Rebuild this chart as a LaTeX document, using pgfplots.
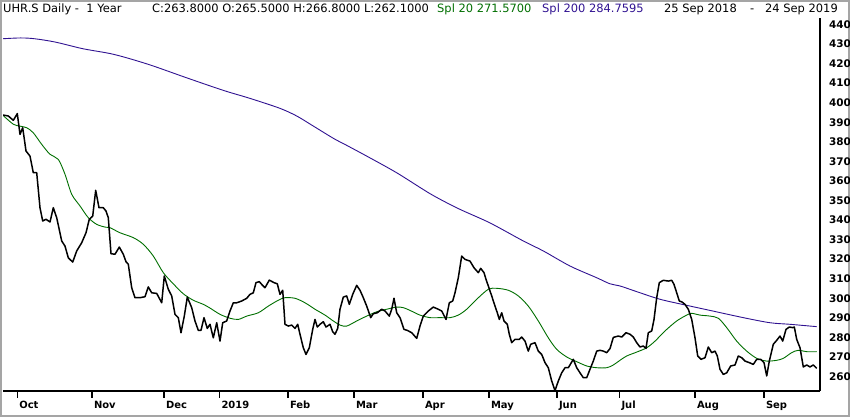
\documentclass[border=0pt]{standalone}
\usepackage{fontspec}
\setmainfont{DejaVu Sans}
\usepackage{pgfplots}
\pgfplotsset{compat=1.18}
\definecolor{splgreen}{RGB}{0,110,0}
\definecolor{splblue}{RGB}{48,18,145}
\definecolor{framegray}{RGB}{165,165,165}
\begin{document}
\begin{tikzpicture}
\useasboundingbox (0,0) rectangle (850bp,417bp);
\draw[framegray, line width=2bp] (1bp,1bp) rectangle (849bp,416bp);
\begin{axis}[
  at={(3bp,26bp)}, anchor=south west,
  scale only axis, width=817bp, height=373bp,
  xmin=3, xmax=820, ymin=252.6, ymax=443.3,
  axis x line*=bottom, axis y line*=right,
  axis line style={-, line width=1.6bp, black},
  xtick={17.3,92,164,219.5,288,354,423,489,557,619.5,695,764},
  xticklabels={Oct,Nov,Dec,2019,Feb,Mar,Apr,May,Jun,Jul,Aug,Sep},
  ytick={260,270,...,440},
  tick align=outside,
  major tick length=6.5bp,
  xtick style={line width=1.2bp, black},
  ytick style={draw=none},
  xticklabel style={font=\bfseries\fontsize{10}{12}\selectfont, anchor=north west, xshift=-1.5bp, yshift=0bp},
  yticklabel style={font=\bfseries\fontsize{10.5}{12}\selectfont, anchor=west, xshift=-1bp},
  /pgf/number format/assume math mode=true,
  clip=true,
]
\addplot[splblue, line width=0.9bp, smooth] coordinates {
(3,432.7)(20.7,433.1)(34.5,432.7)(55.2,431)(82.8,427.6)(113.8,424.7)(148.3,419.6)(186.2,412.8)(223.3,406.3)(250,402.2)(280,397.1)(296.7,393.2)(310.3,389)(333.3,381.8)(344.8,378.7)(366.7,372.7)(396.6,364.2)(431,353.2)(458.6,345.8)(489.7,338.6)(523.3,329.3)(543.3,324.2)(570,316.5)(596.7,310.5)(610,307.4)(620,306.3)(636.7,303.4)(660,299.5)(686.7,296.4)(710,293.8)(743.3,290.1)(770,287.5)(790,286.7)(816.7,285.5)
};
\addplot[splgreen, line width=0.9bp, smooth] coordinates {
(3,393.5)(13.3,389)(20,388)(26.7,387.2)(33.3,384.6)(41.7,378.7)(50,373.6)(58.3,371)(65,363.4)(71.7,353.2)(80,347.2)(88.3,341.2)(96.7,337.8)(105,336.4)(110,336.1)(120,333.5)(133.3,331)(143.3,327.6)(153.3,321.6)(163.3,313.1)(173.3,307.4)(183.3,302.3)(193.3,299)(203.3,296.9)(210,295)(220,291.8)(230,289.8)(238.3,289.2)(246.7,290.9)(258.3,292.6)(268.3,296)(278.3,299)(285,300.3)(295,300)(305,297.7)(315,294.4)(325,291.4)(333.3,288.4)(340,286.3)(346.7,285.8)(356.7,288.4)(366.7,290.9)(376.7,293.1)(386.7,294.4)(396.7,295.5)(403.3,295.2)(410,293.8)(420,291.4)(430,290.1)(440,290.1)(450,290.1)(458.3,291.4)(466.7,294.4)(476.7,299.5)(488.3,304.6)(496.7,305.1)(508.3,304.1)(518.3,301.2)(528.3,296)(538.3,288.4)(548.3,279.8)(556.7,273.9)(566.7,270)(576.7,267.6)(586.7,265.4)(596.7,264.5)(606.7,264.5)(613.3,265.9)(620,268.3)(626.7,270.5)(636.7,272.5)(646.7,274.7)(655,278.1)(665,283.3)(676.7,288.4)(686.7,291.4)(691.7,292.3)(700,291.4)(710,290.9)(718.3,289.8)(726.7,285)(736.7,278.1)(746.7,273)(756.7,269.3)(766.7,267.9)(776.7,268.3)(783.3,269.3)(791.7,272.2)(798.3,273.4)(806.7,272.7)(816.7,272.7)
};
\addplot[black, line width=1.5bp, line join=round] coordinates {
(3,393.7)(8.3,393.2)(13.3,391)(17.3,394.4)(20,383.8)(22.7,387.2)(26,375.3)(30,372.7)(33.3,364.2)(36.7,364.2)(40,346.3)(42.7,339.5)(46,340.4)(50,339)(53.3,346.3)(56.7,341.2)(61.7,329.3)(65,326.7)(68.3,320.7)(72.7,318.5)(76.7,324.2)(81.7,328.4)(86,333.5)(89.3,340.4)(92.7,342)(95.7,355.2)(99,346.3)(103.3,346.3)(106,344.6)(108.3,341.2)(111,322.8)(115,322.5)(119.3,326.2)(123.3,322.5)(126,318.7)(128.3,317.4)(131.7,305.4)(135,300.3)(140,300.3)(145,300.8)(148.3,305.8)(151.7,302.8)(156.7,302.5)(161.7,297.7)(164.3,311.4)(168.3,304.6)(171.7,301.2)(175,291.8)(178.3,290.1)(181,282.4)(184.3,290.9)(187.3,300.6)(191.7,295.2)(195,288.4)(198.3,283.6)(201,283.6)(204,290.1)(207.3,284.6)(210,286.7)(213.3,279.8)(216.7,287.5)(220,278.1)(222.7,287.5)(226.7,288.4)(230,293.5)(233.3,297.7)(236.7,297.7)(241.7,298.6)(246.7,300)(250,302)(253.3,302.8)(256,308)(259.3,308.5)(261.7,307.1)(265,305.4)(269.3,309.3)(274,308)(277.3,307.4)(280,302)(282.7,304.1)(285,286.7)(288.3,285.8)(291.7,286.3)(295,284.6)(297.7,286.7)(300,281.6)(303.3,274.7)(306,271.3)(309.3,274.7)(312.7,284.1)(315,289.2)(317.3,285.3)(320,286.7)(323.3,288)(326,285.3)(330,286.7)(332.7,282.9)(335,281.6)(337.7,284.6)(340,294.4)(343.3,300.6)(346.7,301.2)(349.3,296.9)(352.7,302)(356.7,306.6)(360,304.1)(363.3,300.3)(366.7,296)(370.7,290.1)(373.3,292.1)(377.3,292.6)(381.7,294.4)(385,293.5)(389.3,290.9)(391.7,294.4)(394,300)(396.7,292.6)(400,290.1)(404,284.1)(407.3,283.6)(411.7,282.4)(416.7,279.5)(420,285.8)(423.3,290.9)(428.3,293.5)(433.3,295.5)(438.3,294.4)(441.7,293.5)(446,289.2)(449.3,297.7)(452.7,298.6)(455,302.8)(458.3,310.5)(461.7,321.6)(465,319.9)(470,319)(474,315.6)(478.3,313.1)(480.7,315.3)(484,313.1)(486,309.7)(488.3,306.3)(491.7,301.2)(495,296)(497.3,292.6)(499.3,289.2)(501.7,292.6)(504,288.4)(507.3,286.7)(509.3,281.6)(511.7,277.3)(515,279)(519.3,279)(521.7,280.2)(525,278.1)(528.3,273)(530.7,276.5)(535,277.3)(538.3,273)(541.7,271.3)(545,267.1)(548.3,264.5)(551.7,257.7)(555,252.8)(558.3,257.7)(561.7,261.9)(565,264.5)(568.3,264.5)(573.3,268.8)(576.7,264.5)(580,261.9)(583.3,259.4)(586.7,259.4)(590,263.7)(593.3,267.9)(596.7,273)(600,273.4)(603.3,273)(606.7,272.2)(610,274.3)(613.3,280)(618.3,280.7)(621.7,280.2)(626,282.4)(630,281.6)(633.3,280.2)(636.7,277.3)(640,275.1)(643.3,275.6)(646,274.4)(648.3,282.4)(651.7,283.3)(654,289.2)(656.7,300.3)(659.3,308)(663.3,309.2)(668.3,308.8)(671.7,309.2)(674,307.1)(676.7,302.8)(679.3,298.6)(681.7,298.2)(685,296.9)(688.3,294.4)(691.7,289.2)(695,279.8)(697.7,270.5)(701,268.8)(705,269.6)(708.3,275.1)(711.7,272.2)(715,273)(717.3,270.5)(720,263.7)(723.3,261.1)(726.7,261.9)(730.7,265.4)(735,265.9)(738.3,270.5)(741.7,269.6)(745,267.9)(749.3,267.1)(753.3,266.2)(756.7,268.8)(760.7,268.8)(764,267.1)(766.7,260.3)(769.3,267.9)(773.3,276.5)(776.7,278.5)(780,280.7)(782.7,278.1)(786,284.1)(789.3,285.3)(792.7,285)(794.3,285.3)(796.7,279)(800,274.7)(803.3,264.9)(806.7,265.9)(810,264.9)(813.3,265.9)(816.7,264.2)
};
\end{axis}
\begin{scope}[every node/.style={inner sep=0pt, anchor=base west, font=\fontsize{11.5}{13}\selectfont}]
\node at (3bp,404.5bp) {UHR.S Daily -\ \ 1 Year};
\node at (152bp,404.5bp) {C:263.8000 O:265.5000 H:266.8000 L:262.1000};
\node[text=splgreen] at (437bp,404.5bp) {Spl 20 271.5700};
\node[text=splblue] at (542bp,404.5bp) {Spl 200 284.7595};
\node at (664bp,404.5bp) {25 Sep 2018};
\node at (750bp,404.5bp) {-};
\node at (765bp,404.5bp) {24 Sep 2019};
\end{scope}
\end{tikzpicture}
\end{document}
